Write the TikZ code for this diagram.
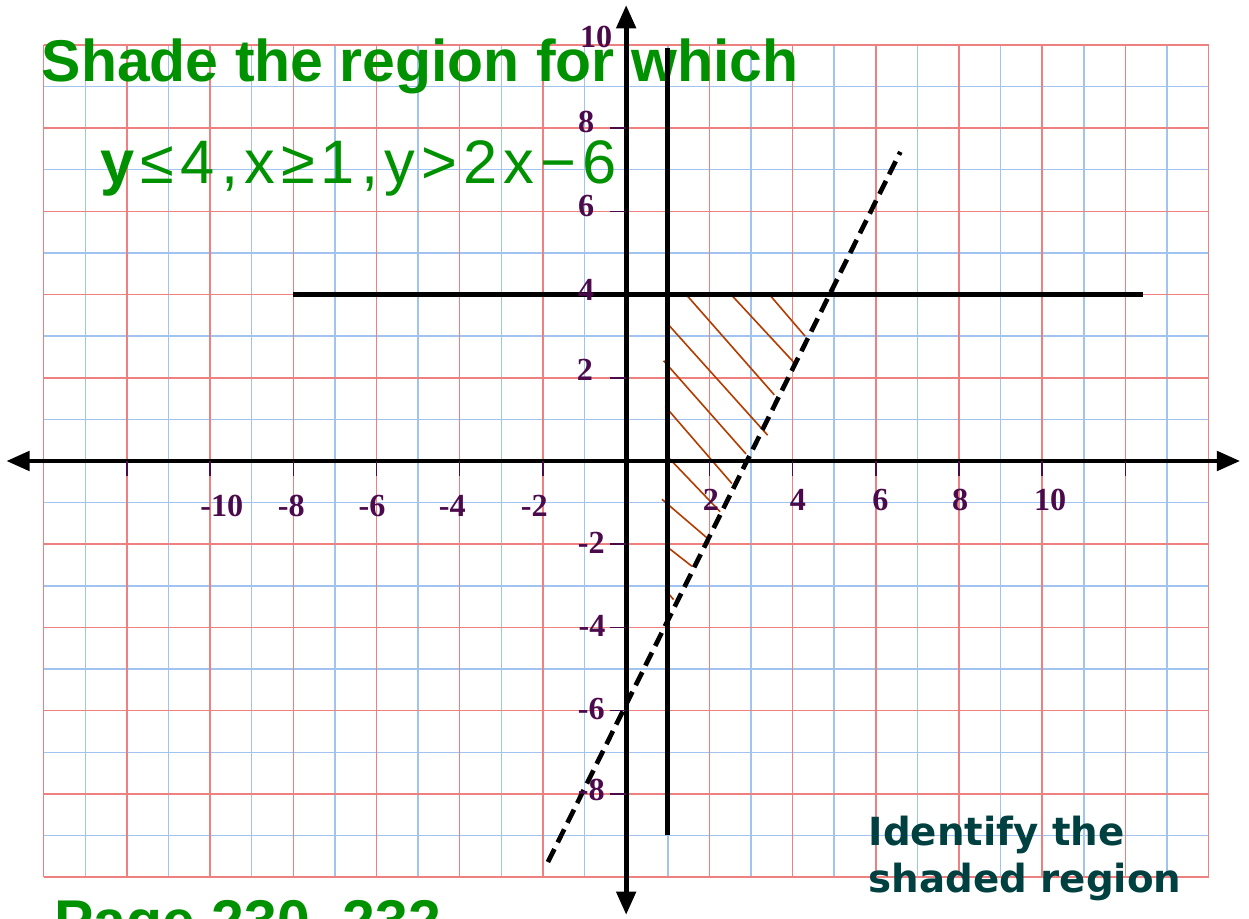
\documentclass[tikz,border=0pt]{standalone}
\usepackage{fontspec}
\setmainfont{Liberation Serif}
\newfontfamily\headfont{Liberation Sans}
\newfontfamily\ineqfont[LetterSpace=10]{Liberation Sans}
\newfontfamily\notefont{DejaVu Sans}
\usetikzlibrary{arrows.meta}
\definecolor{gridred}{RGB}{238,128,128}
\definecolor{gridblue}{RGB}{160,195,240}
\definecolor{headgreen}{RGB}{0,145,0}
\definecolor{tickpurple}{RGB}{75,10,75}
\definecolor{hatchbrown}{RGB}{180,60,0}
\definecolor{noteteal}{RGB}{0,64,64}
\tikzset{
  axis/.style={line width=3.4pt,{Triangle[length=16pt,width=13pt]}-{Triangle[length=16pt,width=13pt]}},
  boundary/.style={line width=3.2pt},
  hatch/.style={hatchbrown,line width=1.1pt},
  axtick/.style={tickpurple,line width=1pt},
  ticklabel/.style={tickpurple,inner sep=0pt,font=\fontsize{22}{24}\selectfont\bfseries},
  headtext/.style={headgreen,anchor=base west,inner sep=0pt},
  notetext/.style={noteteal,anchor=base west,inner sep=0pt,font=\notefont\fontsize{26.5}{32}\selectfont\bfseries},
}
\begin{document}
\begin{tikzpicture}
\useasboundingbox (-15.05,-10.99) rectangle (14.97,11.08);
% grid paper
\foreach \k in {-13,-11,...,13}
  \draw[gridblue,line width=1pt] (\k,-10) -- (\k,10);
\foreach \k in {-9,-7,...,9}
  \draw[gridblue,line width=1pt] (-14,\k) -- (14,\k);
\foreach \k in {-14,-12,...,14}
  \draw[gridred,line width=1pt] (\k,-10) -- (\k,10);
\foreach \k in {-10,-8,...,10}
  \draw[gridred,line width=1pt] (-14,\k) -- (14,\k);

% texts
\node[headtext,font=\headfont\fontsize{40.3}{48}\selectfont\bfseries] (title) at (-14.05,9.11) {Shade the region for which};
\node[headtext,font=\ineqfont\fontsize{42}{50}\selectfont] (ineq) at (-12.64,6.66) {\textbf{y}≤4,x≥1,y>2x−6};
\node[notetext] (note1) at (5.82,-9.23) {Identify the};
\node[notetext] (note2) at (5.82,-10.36) {shaded region};
\node[headtext,font=\headfont\fontsize{40.3}{48}\selectfont\bfseries] (page) at (-13.75,-11.56) {Page 230, 232};

% shading
\draw[hatch] (3.46,3.98) -- (4.30,3.00)
  (2.54,3.98) -- (4.04,2.36)
  (1.46,3.98) -- (3.56,1.59)
  (1.02,3.27) -- (3.40,0.62)
  (0.90,2.41) -- (2.88,0.17)
  (0.94,1.31) -- (2.54,-0.54)
  (0.98,0.12) -- (2.26,-1.22)
  (0.86,-0.92) -- (1.98,-1.88)
  (0.98,-2.06) -- (1.58,-2.53)
  (0.94,-3.10) -- (1.14,-3.33);

% boundary lines
\coordinate (hl) at (-8,4);
\coordinate (hr) at (12.43,4);
\coordinate (vb) at (1,-9);
\coordinate (vt) at (1,9.93);
\coordinate (db) at (-1.88,-9.64);
\coordinate (dt) at (6.59,7.43);
\draw[boundary] (hl) -- (hr);
\draw[boundary] (vb) -- (vt);
\draw[boundary,dash pattern=on 10pt off 5pt] (db) -- (dt);

% axes
\coordinate (xl) at (-14.9,0);
\coordinate (xr) at (14.76,0);
\coordinate (yb) at (0,-10.91);
\coordinate (yt) at (0,10.96);
\draw[axis] (xl) -- (xr);
\draw[axis] (yb) -- (yt);

\foreach \x in {-12,-10,-8,-6,-4,-2,2,4,6,8,10,12}
  \draw[axtick] (\x,0) -- (\x,-0.36);
\foreach \y in {8,6,2,-2,-4,-6,-8}
  \draw[axtick] (-0.4,\y) -- (0,\y);

\foreach \x/\lx in {-10/-9.72,-8/-8.05,-6/-6.11,-4/-4.18,-2/-2.21}
  \node[ticklabel] (xlab\x) at (\lx,-1.08) {\x};
\foreach \x/\lx in {2/2.04,4/4.13,6/6.11,8/8.03,10/10.19}
  \node[ticklabel] (xlab\x) at (\lx,-0.94) {\x};
\foreach \y/\lx/\ly in {10/-0.72/10.19,8/-0.96/8.15,6/-0.96/6.13,4/-0.96/4.11,2/-0.99/2.19,-2/-0.84/-1.97,-4/-0.82/-3.97,-6/-0.84/-5.95,-8/-0.84/-7.9}
  \node[ticklabel] (ylab\y) at (\lx,\ly) {\y};
\end{tikzpicture}
\end{document}
